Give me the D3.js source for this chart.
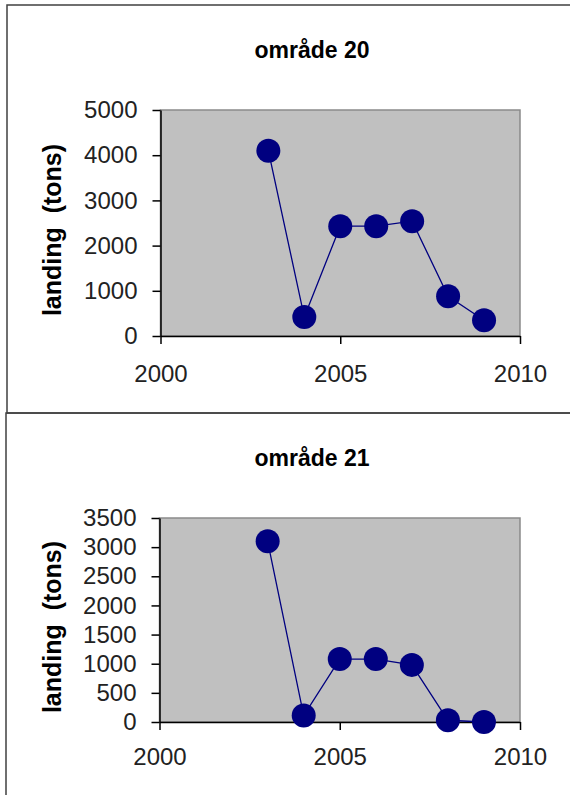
<!DOCTYPE html>
<html>
<head>
<meta charset="utf-8">
<script src="https://cdn.jsdelivr.net/npm/d3@7"></script>
<style>
  body { margin: 0; background: #fff; }
  svg { display: block; font-family: "Liberation Sans", Arial, sans-serif; }
</style>
</head>
<body>
<svg id="chart" width="570" height="795"></svg>
<script>
// данные
const years = [2003, 2004, 2005, 2006, 2007, 2008, 2009];
const landing20 = [4100, 420, 2430, 2430, 2540, 880, 350];
const landing21 = [3100, 110, 1080, 1080, 980, 30, 0];
const xTicks = [2000, 2005, 2010];
const yTicks20 = [0, 1000, 2000, 3000, 4000, 5000];
const yTicks21 = [0, 500, 1000, 1500, 2000, 2500, 3000, 3500];
const titles = ['område 20', 'område 21'];
const yLabel = 'landing\u00a0\u00a0(tons)';

const svg = d3.select('#chart');

// рамки вокруг двух диаграмм
svg.append('rect').attr('x', 7).attr('y', 5).attr('width', 600).attr('height', 408)
    .attr('fill', 'none').attr('stroke', '#404040').attr('stroke-width', 1.5);
svg.append('rect').attr('x', 6).attr('y', 413).attr('width', 600).attr('height', 420)
    .attr('fill', 'none').attr('stroke', '#404040').attr('stroke-width', 1.5);

const drawPanel = (cfg) => {
    const g = svg.append('g');
    const x = d3.scaleLinear().domain([2000, 2010]).range([cfg.left, cfg.right]);
    const y = d3.scaleLinear().domain([0, d3.max(cfg.yTicks)]).range([cfg.bottom, cfg.top]);

    // область графика
    g.append('rect')
        .attr('x', x(2000)).attr('y', y.range()[1])
        .attr('width', x(2010) - x(2000)).attr('height', y.range()[0] - y.range()[1])
        .attr('fill', '#c0c0c0').attr('stroke', '#8a8a8a').attr('stroke-width', 1.5);

    const xAxis = g.append('g')
        .attr('transform', 'translate(0,' + cfg.bottom + ')')
        .call(d3.axisBottom(x).tickValues(xTicks).tickFormat(d3.format('d'))
            .tickSize(8).tickSizeOuter(0).tickPadding(cfg.xPad));
    const yAxis = g.append('g')
        .attr('transform', 'translate(' + cfg.left + ',0)')
        .call(d3.axisLeft(y).tickValues(cfg.yTicks).tickFormat(d3.format('d'))
            .tickSize(8).tickSizeOuter(0).tickPadding(15));

    [xAxis, yAxis].forEach((a) => {
        a.select('.domain').attr('stroke', '#000').attr('stroke-width', 1.5);
        a.selectAll('.tick line').attr('stroke', '#000').attr('stroke-width', 1.5);
        a.selectAll('.tick text')
            .attr('font-family', '"Liberation Sans", Arial, sans-serif')
            .attr('font-size', 24).attr('fill', '#222');
    });

    const pts = years.map((yr, i) => [yr, cfg.values[i]]);

    g.append('path')
        .datum(pts)
        .attr('fill', 'none').attr('stroke', '#000080').attr('stroke-width', 1.3)
        .attr('d', d3.line().x(d => x(d[0])).y(d => y(d[1])));

    g.selectAll('circle.pt')
        .data(pts)
        .enter()
        .append('circle')
        .attr('class', 'pt')
        .attr('cx', d => x(d[0])).attr('cy', d => y(d[1]))
        .attr('r', 12)
        .attr('fill', '#000080');

    // заголовок
    g.append('text')
        .attr('x', 312).attr('y', cfg.titleY)
        .attr('text-anchor', 'middle')
        .attr('font-size', 23).attr('font-weight', 'bold').attr('fill', '#000')
        .text(cfg.title);

    // подпись оси Y
    const cy = (cfg.top + cfg.bottom) / 2 + 7;
    g.append('text')
        .attr('transform', 'translate(61,' + cy + ') rotate(-90)')
        .attr('text-anchor', 'middle')
        .attr('font-size', 25).attr('font-weight', 'bold').attr('fill', '#000')
        .text(yLabel);
};

drawPanel({ values: landing20, yTicks: yTicks20, title: titles[0],
    left: 160.5, right: 520, top: 110, bottom: 336, titleY: 58, xPad: 21 });
drawPanel({ values: landing21, yTicks: yTicks21, title: titles[1],
    left: 159.5, right: 520, top: 518, bottom: 722, titleY: 466, xPad: 18 });
</script>
</body>
</html>
